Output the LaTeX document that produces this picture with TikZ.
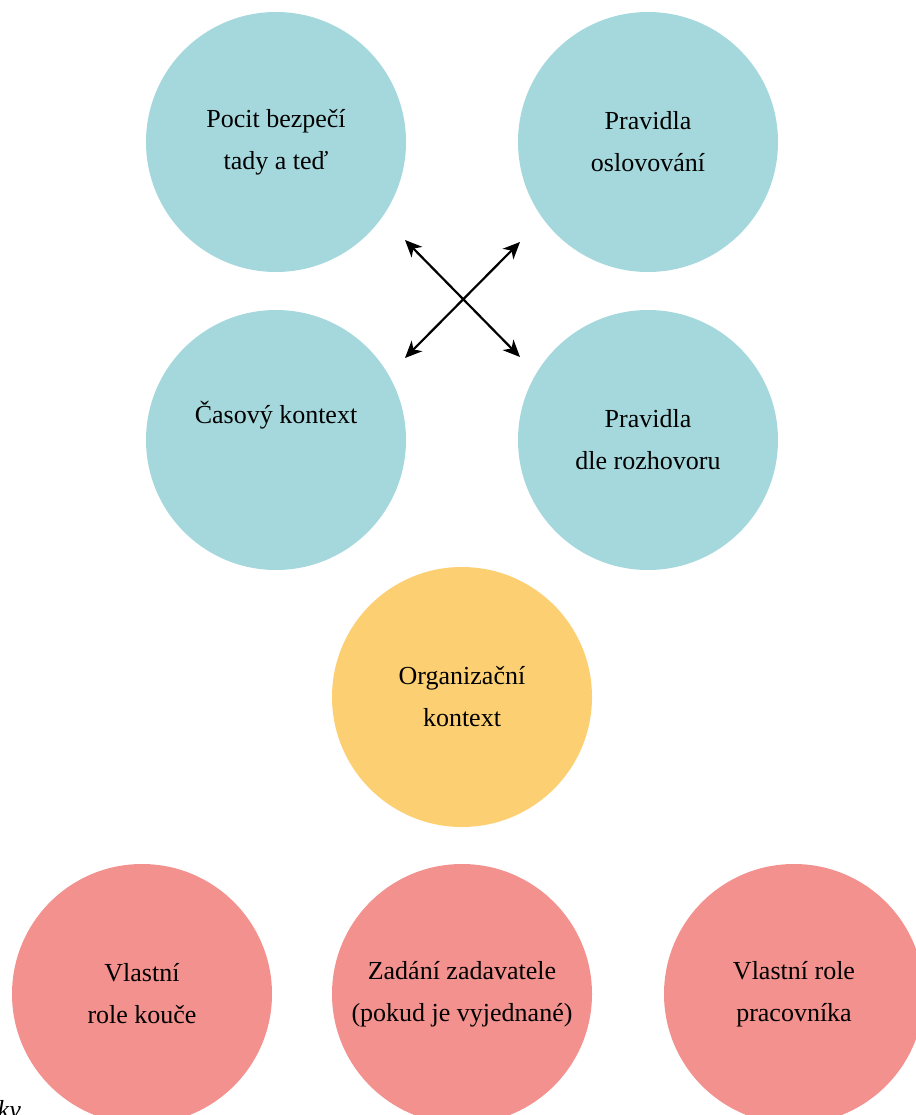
\documentclass[tikz,border=0pt]{standalone}
\usepackage{fontspec}
\setmainfont{Liberation Serif}
\usetikzlibrary{arrows.meta}
\definecolor{tealc}{RGB}{165,216,220}
\definecolor{orangec}{RGB}{252,208,114}
\definecolor{pinkc}{RGB}{242,145,141}
\begin{document}
\begin{tikzpicture}[x=1pt,y=-1pt,
  bubble/.style={circle, minimum size=260pt, inner sep=0pt, align=center,
    font=\fontsize{26}{42}\selectfont, text=black},
  tealb/.style={bubble, fill=tealc},
  orangeb/.style={bubble, fill=orangec},
  pinkb/.style={bubble, fill=pinkc},
  dbl/.style={line width=2.2pt, {Stealth[length=17pt,width=15pt,inset=5pt]}-{Stealth[length=17pt,width=15pt,inset=5pt]}}
]
\useasboundingbox (0,0) rectangle (915,1115);
\node[tealb] (bez) at (276,142) {Pocit bezpečí\\tady a teď};
\node[tealb] (osl) at (648,142) {Pravidla\\oslovování};
\node[tealb] (cas) at (276,440) {Časový kontext\\\strut};
\node[tealb] (roz) at (648,440) {Pravidla\\dle rozhovoru};
\node[orangeb] (org) at (462,697) {Organizační\\kontext};
\node[pinkb] (kou) at (142,994) {Vlastní\\role kouče};
\node[pinkb] (zad) at (462,994) {Zadání zadavatele\\(pokud je vyjednané)};
\node[pinkb] (pra) at (794,994) {Vlastní role\\pracovníka};
\node[font=\itshape\fontsize{26}{26}\selectfont, anchor=base east, inner sep=0pt] (ky) at (21,1118) {ky};
\coordinate (tl) at (405,240);
\coordinate (tr) at (520,242);
\coordinate (bl) at (405,358);
\coordinate (br) at (520,357);
\draw[dbl] (tl) -- (br);
\draw[dbl] (tr) -- (bl);
\end{tikzpicture}
\end{document}
